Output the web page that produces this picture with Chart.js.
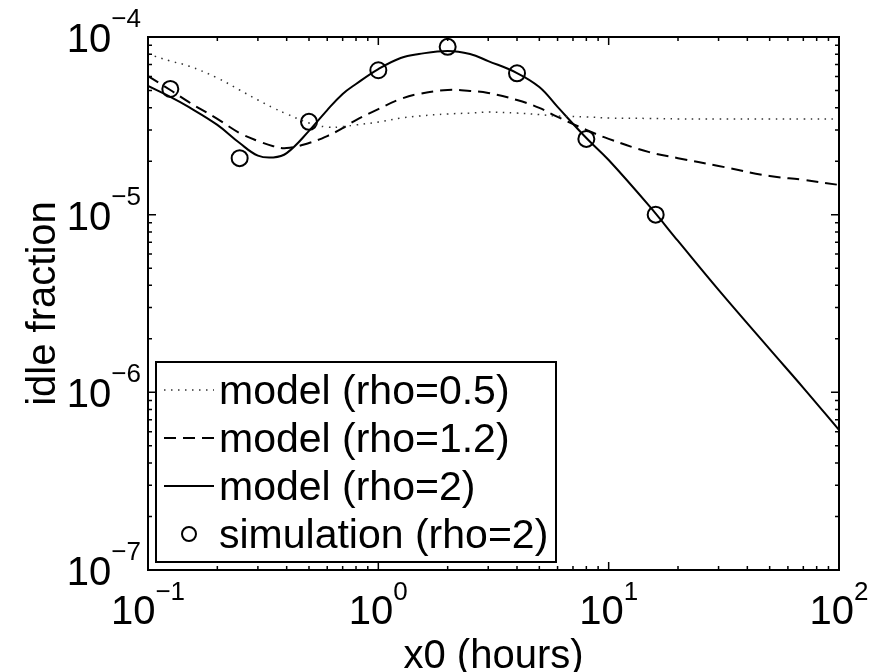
<!DOCTYPE html>
<html>
<head>
<meta charset="utf-8">
<script src="https://cdn.jsdelivr.net/npm/chart.js@4.4.1/dist/chart.umd.min.js"></script>
<style>
  html, body { margin: 0; padding: 0; background: #fff; }
  #wrap { width: 873px; height: 672px; }
</style>
</head>
<body>
<div id="wrap"><canvas id="chart" width="873" height="672"></canvas></div>
<script>
const modelX = [0.1, 0.125, 0.15, 0.2, 0.25, 0.3, 0.35, 0.4, 0.5, 0.6, 0.7, 0.8, 1, 1.25, 1.5,
                2, 2.5, 3, 4, 5, 6, 8, 10, 15, 20, 30, 50, 70, 100];

// idle fraction, model rho=0.5 (dotted)
const modelRho05 = [8.02e-5, 7.32e-5, 6.87e-5, 5.88e-5, 5.03e-5, 4.42e-5, 3.99e-5, 3.69e-5, 3.28e-5,
                    3.11e-5, 3.13e-5, 3.20e-5, 3.32e-5, 3.50e-5, 3.59e-5, 3.69e-5, 3.73e-5, 3.78e-5,
                    3.73e-5, 3.66e-5, 3.59e-5, 3.55e-5, 3.50e-5, 3.48e-5, 3.46e-5, 3.46e-5, 3.46e-5,
                    3.46e-5, 3.46e-5];

// idle fraction, model rho=1.2 (dashed)
const modelRho12 = [6.03e-5, 5.03e-5, 4.31e-5, 3.46e-5, 2.88e-5, 2.60e-5, 2.43e-5, 2.37e-5, 2.53e-5,
                    2.77e-5, 3.07e-5, 3.41e-5, 3.93e-5, 4.48e-5, 4.78e-5, 5.03e-5, 4.97e-5, 4.84e-5,
                    4.42e-5, 3.99e-5, 3.55e-5, 3.00e-5, 2.67e-5, 2.25e-5, 2.08e-5, 1.88e-5, 1.65e-5,
                    1.57e-5, 1.47e-5];

// idle fraction, model rho=2 (solid)
const modelRho2 = [5.30e-5, 4.60e-5, 4.04e-5, 3.20e-5, 2.53e-5, 2.15e-5, 2.10e-5, 2.22e-5, 2.96e-5,
                   3.88e-5, 4.78e-5, 5.44e-5, 6.60e-5, 7.62e-5, 8.02e-5, 8.34e-5, 8.02e-5, 7.32e-5,
                   6.27e-5, 5.23e-5, 4.04e-5, 2.70e-5, 2.03e-5, 1.12e-5, 7.11e-6, 3.77e-6, 1.75e-6,
                   1.06e-6, 6.14e-7];

// simulation rho=2 (circles)
const simX = [0.125, 0.25, 0.5, 1, 2, 4, 8, 16];
const simRho2 = [5.1e-5, 2.08e-5, 3.33e-5, 6.5e-5, 8.8e-5, 6.25e-5, 2.67e-5, 1.0e-5];

// decade ticks and their exponent labels
const xTicks = [0.1, 1, 10, 100];
const xTickExp = ['\u22121', '0', '1', '2'];
const yTicks = [1e-7, 1e-6, 1e-5, 1e-4];
const yTickExp = ['\u22127', '\u22126', '\u22125', '\u22124'];

const FONT = "'Liberation Sans', Arial, Helvetica, sans-serif";

function pts(xs, ys) {
  return xs.map((v, i) => ({ x: v, y: ys[i] }));
}

// MATLAB-style box: inward ticks on all sides, 10^n labels, boxed legend
const matlabAxes = {
  id: 'matlabAxes',
  afterDraw(chart) {
    const { ctx, chartArea: a, scales: { x, y } } = chart;
    ctx.save();
    ctx.strokeStyle = '#000';
    ctx.fillStyle = '#000';

    // ticks
    ctx.lineWidth = 1.5;
    const tickMarks = (scale, decades, horizontal) => {
      decades.forEach((d, k) => {
        const mults = k === decades.length - 1 ? [1] : [1, 2, 3, 4, 5, 6, 7, 8, 9];
        mults.forEach(m => {
          const p = scale.getPixelForValue(d * m);
          const len = m === 1 ? 8 : 4;
          ctx.beginPath();
          if (horizontal) {
            ctx.moveTo(p, a.bottom); ctx.lineTo(p, a.bottom - len);
            ctx.moveTo(p, a.top); ctx.lineTo(p, a.top + len);
          } else {
            ctx.moveTo(a.left, p); ctx.lineTo(a.left + len, p);
            ctx.moveTo(a.right, p); ctx.lineTo(a.right - len, p);
          }
          ctx.stroke();
        });
      });
    };
    tickMarks(x, xTicks, true);
    tickMarks(y, yTicks, false);

    // box
    ctx.lineWidth = 2;
    ctx.strokeRect(a.left, a.top, a.right - a.left, a.bottom - a.top);

    // tick labels 10^n
    const baseFont = '40px ' + FONT;
    const expFont = '26px ' + FONT;
    ctx.textBaseline = 'alphabetic';
    ctx.textAlign = 'left';
    const label = (exp, x0, baseY, expY) => {
      ctx.font = baseFont;
      const wb = ctx.measureText('10').width;
      ctx.fillText('10', x0, baseY);
      ctx.font = expFont;
      ctx.fillText(exp, x0 + wb, expY);
    };
    const widthOf = exp => {
      ctx.font = baseFont;
      const wb = ctx.measureText('10').width;
      ctx.font = expFont;
      return wb + ctx.measureText(exp).width;
    };
    xTicks.forEach((v, i) => {
      const p = x.getPixelForValue(v);
      const w = widthOf(xTickExp[i]);
      label(xTickExp[i], p - w / 2, a.bottom + 54, a.bottom + 30);
    });
    yTicks.forEach((v, i) => {
      const p = y.getPixelForValue(v);
      const w = widthOf(yTickExp[i]);
      label(yTickExp[i], a.left - 7 - w, p + 15, p - 10);
    });

    // legend
    const lx = 156, ly = 362, lw = 400, lh = 200;
    ctx.fillStyle = '#fff';
    ctx.fillRect(lx, ly, lw, lh);
    ctx.lineWidth = 2;
    ctx.strokeStyle = '#000';
    ctx.strokeRect(lx, ly, lw, lh);
    ctx.font = '41px ' + FONT;
    chart.data.datasets.forEach((ds, i) => {
      const rowY = 390 + i * 48;
      ctx.save();
      if (ds.showLine === false) {
        ctx.lineWidth = 2;
        ctx.strokeStyle = '#000';
        ctx.beginPath();
        ctx.arc(189, rowY, 7, 0, Math.PI * 2);
        ctx.stroke();
      } else {
        ctx.lineWidth = ds.borderWidth;
        ctx.strokeStyle = ds.borderColor;
        ctx.setLineDash(ds.borderDash || []);
        ctx.beginPath();
        ctx.moveTo(164, rowY);
        ctx.lineTo(214, rowY);
        ctx.stroke();
      }
      ctx.restore();
      ctx.fillStyle = '#000';
      ctx.fillText(ds.label, 219, rowY + 14);
    });
    ctx.restore();
  }
};

new Chart(document.getElementById('chart'), {
  type: 'line',
  data: {
    datasets: [
      {
        label: 'model (rho=0.5)',
        data: pts(modelX, modelRho05),
        borderColor: '#333',
        borderWidth: 1.5,
        borderDash: [1.5, 5.5],
        pointRadius: 0,
        tension: 0.4
      },
      {
        label: 'model (rho=1.2)',
        data: pts(modelX, modelRho12),
        borderColor: '#000',
        borderWidth: 2,
        borderDash: [12, 7],
        pointRadius: 0,
        tension: 0.4
      },
      {
        label: 'model (rho=2)',
        data: pts(modelX, modelRho2),
        borderColor: '#000',
        borderWidth: 2,
        pointRadius: 0,
        tension: 0.4
      },
      {
        label: 'simulation (rho=2)',
        data: pts(simX, simRho2),
        showLine: false,
        pointStyle: 'circle',
        pointRadius: 8,
        pointBorderWidth: 2,
        pointBorderColor: '#000',
        pointBackgroundColor: 'rgba(0,0,0,0)'
      }
    ]
  },
  options: {
    responsive: false,
    animation: false,
    devicePixelRatio: 1,
    layout: { padding: { top: 37, right: 34, left: 0, bottom: 0 } },
    plugins: {
      legend: { display: false },
      tooltip: { enabled: false }
    },
    scales: {
      x: {
        type: 'logarithmic',
        min: 0.1,
        max: 100,
        grid: { display: false },
        border: { display: false },
        ticks: { display: false },
        title: {
          display: true,
          text: 'x0 (hours)',
          color: '#000',
          font: { family: FONT, size: 40, lineHeight: 0.75 },
          padding: 0
        },
        afterFit(scale) { scale.height = 102; }
      },
      y: {
        type: 'logarithmic',
        min: 1e-7,
        max: 1e-4,
        grid: { display: false },
        border: { display: false },
        ticks: { display: false },
        title: {
          display: true,
          text: 'idle fraction',
          color: '#000',
          font: { family: FONT, size: 40, lineHeight: 1 },
          padding: { top: 24, bottom: 0 }
        },
        afterFit(scale) { scale.width = 148; }
      }
    }
  },
  plugins: [matlabAxes]
});
</script>
</body>
</html>
